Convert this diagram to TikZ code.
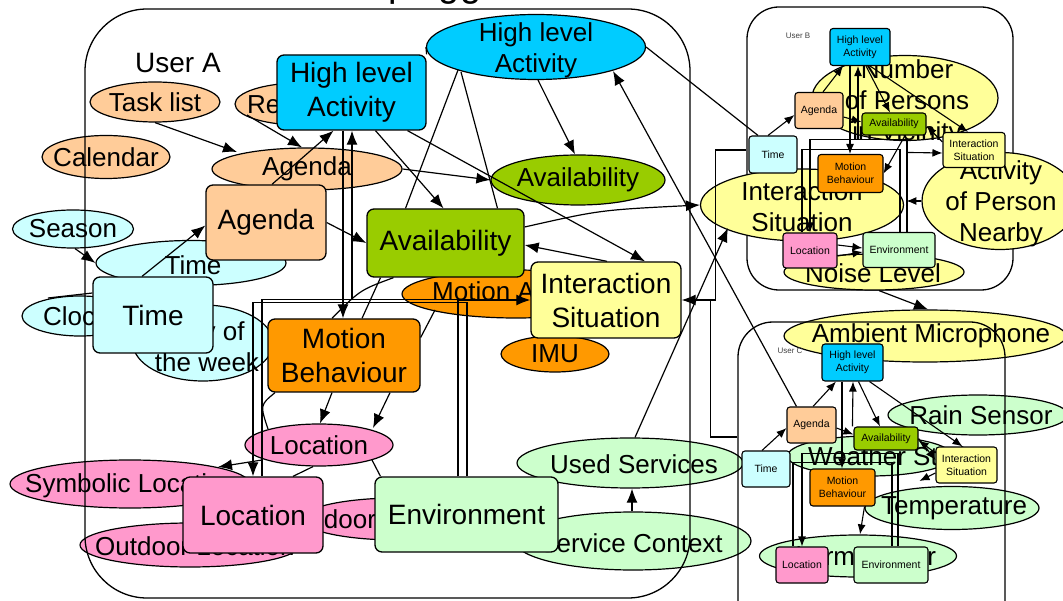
\documentclass[tikz,border=0pt]{standalone}
\usepackage{fontspec}
\setmainfont{Liberation Sans}
\usetikzlibrary{shapes.geometric,arrows.meta}

\pgfdeclarelayer{ctxlayer}
\pgfdeclarelayer{linklayer}
\pgfsetlayers{ctxlayer,linklayer,main}

\definecolor{peach}{HTML}{FFCC99}
\definecolor{paleCyan}{HTML}{CCFFFF}
\definecolor{actBlue}{HTML}{00CCFF}
\definecolor{availGreen}{HTML}{99CC00}
\definecolor{sitYellow}{HTML}{FFFF99}
\definecolor{motOrange}{HTML}{FF9900}
\definecolor{locPink}{HTML}{FF99CC}
\definecolor{envGreen}{HTML}{CCFFCC}

\newcommand{\fsz}[2]{\fontsize{#1}{#2}\selectfont}
% context source ellipse: name, x, y, width, height, fill
\newcommand{\ctxshape}[6]{%
  \node[ctx, fill=#6, minimum width=#4pt, minimum height=#5pt] (#1) at (#2,#3) {};}

\tikzset{
  ctx/.style={ellipse, draw, line width=1.2pt, inner sep=0pt},
  ctxlbl/.style={font=\fsz{26}{31}, align=center, inner sep=0pt},
  bigbox/.style={draw, line width=1.3pt, rounded corners=7pt, align=center, inner sep=0pt, font=\fsz{28}{34}},
  smallbox/.style={draw, line width=1.1pt, rounded corners=3pt, align=center, inner sep=0pt, font=\fsz{10.5}{13}},
  userframe/.style={draw, line width=1.3pt, inner sep=0pt},
  arr/.style={-{Latex[length=14pt,width=11pt]}, line width=1.2pt},
  sarr/.style={-{Latex[length=10pt,width=8pt]}, line width=1.1pt},
  plain/.style={line width=1.2pt},
  splain/.style={line width=1.1pt},
  userlbl/.style={font=\fsz{8}{9}, text=black!75, inner sep=0pt},
}

\begin{document}
\begin{tikzpicture}[x=1pt,y=-1pt]
\useasboundingbox (0,0) rectangle (1063,601);

\node[font=\fsz{38}{38}, anchor=base west, inner sep=0pt] (title) at (388,-3) {plugged};

%----------------------------------------------------------------- sources
\begin{pgfonlayer}{ctxlayer}
\node[userframe, rounded corners=32pt, minimum width=266pt, minimum height=283pt] (frameB) at (880,148.5) {};

% user B sources
\ctxshape{numB}{905}{98}{186}{85}{sitYellow}
\node[ctxlbl] (numB-t) at (907,103) {Number\\of Persons\\in Vicinity};
\ctxshape{actB}{1000}{201}{156}{97}{sitYellow}
\node[ctxlbl] (actB-t) at (1001,204) {Activity\\of Person\\Nearby};
\ctxshape{isellB}{802}{205}{203}{72}{sitYellow}
\node[ctxlbl] (isellB-t) at (802,207) {Interaction\\Situation};
\ctxshape{noise}{874}{272}{180}{36}{sitYellow}
\node[ctxlbl] (noise-t) at (873,273) {Noise Level};
\ctxshape{ambient}{925}{336}{282}{52}{sitYellow}
\node[ctxlbl] (ambient-t) at (931,336) {Ambient Microphone};

% user A sources
\ctxshape{task}{155}{102}{130}{40}{peach}
\node[ctxlbl] (task-t) at (task) {Task list};
\ctxshape{rem}{300}{104}{130}{42}{peach}
\node[ctxlbl, anchor=west] (rem-t) at (247,104) {Reminder};
\ctxshape{cal}{106}{157}{128}{43}{peach}
\node[ctxlbl] (cal-t) at (cal) {Calendar};
\ctxshape{agell}{307}{169}{190}{42}{peach}
\node[ctxlbl] (agell-t) at (agell) {Agenda};
\ctxshape{season}{73}{229}{121}{38}{paleCyan}
\node[ctxlbl] (season-t) at (season) {Season};
\ctxshape{timeell}{191}{263}{190}{45}{paleCyan}
\node[ctxlbl] (timeell-t) at (193,265) {Time};
\ctxshape{clock}{80}{316}{116}{40}{paleCyan}
\node[ctxlbl, anchor=west] (clock-t) at (43,316) {Clock};
\ctxshape{dow}{203}{343}{140}{76}{paleCyan}
\node[ctxlbl] (dow-t) at (207,347) {Day of\\the week};
\ctxshape{hlell}{536}{47}{219}{65}{actBlue}
\node[ctxlbl] (hlell-t) at (536,50) {High level\\Activity};
\ctxshape{avell}{578}{180}{174}{50}{availGreen}
\node[ctxlbl] (avell-t) at (avell) {Availability};
\ctxshape{mact}{516}{294}{228}{48}{motOrange}
\node[ctxlbl, anchor=west] (mact-t) at (432,294) {Motion Activity};
\ctxshape{imu}{555}{354}{108}{36}{motOrange}
\node[ctxlbl] (imu-t) at (imu) {IMU};
\ctxshape{locell}{319}{445}{148}{42}{locPink}
\node[ctxlbl] (locell-t) at (locell) {Location};
\ctxshape{symloc}{130}{484}{240}{48}{locPink}
\node[ctxlbl, anchor=west] (symloc-t) at (25,486) {Symbolic Location};
\ctxshape{outloc}{190}{545}{220}{44}{locPink}
\node[ctxlbl, anchor=west] (outloc-t) at (95,546) {Outdoor Location};
\ctxshape{inloc}{397}{519}{190}{42}{locPink}
\node[ctxlbl, anchor=west] (inloc-t) at (302,519) {Indoor Location};
\ctxshape{used}{630}{463}{226}{50}{envGreen}
\node[ctxlbl] (used-t) at (634,464) {Used Services};
\ctxshape{svc}{633}{541}{236}{58}{envGreen}
\node[ctxlbl, anchor=west] (svc-t) at (539,543) {Service Context};

% user C sources
\ctxshape{rain}{978}{415}{180}{40}{envGreen}
\node[ctxlbl] (rain-t) at (981,415) {Rain Sensor};
\ctxshape{weather}{870}{456}{165}{40}{envGreen}
\node[ctxlbl, anchor=west] (weather-t) at (808,456) {Weather Station};
\ctxshape{temp}{952}{508}{174}{43}{envGreen}
\node[ctxlbl] (temp-t) at (954,508) {Temperature};
\ctxshape{therm}{858}{556}{197}{42}{envGreen}
\node[ctxlbl] (therm-t) at (therm) {Thermometer};

\node[userframe, rounded corners=62pt, minimum width=605pt, minimum height=589pt] (frameA) at (387.5,303.5) {};
\node[userframe, rounded corners=35pt, minimum width=267pt, minimum height=318pt] (frameC) at (871.5,481) {};
\end{pgfonlayer}

%----------------------------------------------------------------- user labels
\node[font=\fsz{28}{30}, inner sep=0pt] (userA) at (178,63) {User A};
\node[userlbl] (userB) at (798,36) {User B};
\node[userlbl] (userC) at (790,351) {User C};

%----------------------------------------------------------------- user A model
\node[bigbox, fill=actBlue, minimum width=149pt, minimum height=75pt] (hlA) at (351.5,92.5) {High level\\Activity};
\node[bigbox, fill=peach, minimum width=120pt, minimum height=75pt] (agA) at (266,222.5) {Agenda};
\node[bigbox, fill=paleCyan, minimum width=120pt, minimum height=76pt] (tmA) at (153,315) {Time};
\node[bigbox, fill=availGreen, minimum width=157pt, minimum height=68pt] (avA) at (445.5,243) {Availability};
\node[bigbox, fill=sitYellow, minimum width=150pt, minimum height=76pt] (isA) at (606,300) {Interaction\\Situation};
\node[bigbox, fill=motOrange, minimum width=152pt, minimum height=73pt] (mbA) at (344,355.5) {Motion\\Behaviour};
\node[bigbox, fill=locPink, minimum width=140pt, minimum height=76pt] (loA) at (253,515) {Location};
\node[bigbox, fill=envGreen, minimum width=183pt, minimum height=75pt] (enA) at (466.5,514.5) {Environment};

%----------------------------------------------------------------- user B model
\node[smallbox, fill=actBlue, minimum width=60pt, minimum height=37pt] (hlB) at (860,47) {High level\\Activity};
\node[smallbox, fill=peach, minimum width=48pt, minimum height=36pt] (agB) at (819,110.5) {Agenda};
\node[smallbox, fill=paleCyan, minimum width=48pt, minimum height=37pt] (tmB) at (773,154.5) {Time};
\node[smallbox, fill=availGreen, minimum width=64pt, minimum height=22pt] (avB) at (894,124) {Availability};
\node[smallbox, fill=sitYellow, minimum width=62pt, minimum height=35pt] (isB) at (974,150) {Interaction\\Situation};
\node[smallbox, fill=motOrange, minimum width=65pt, minimum height=38pt] (mbB) at (850.5,173.5) {Motion\\Behaviour};
\node[smallbox, fill=locPink, minimum width=54pt, minimum height=35pt] (loB) at (810,250.5) {Location};
\node[smallbox, fill=envGreen, minimum width=72pt, minimum height=35pt] (enB) at (899,250) {Environment};

%----------------------------------------------------------------- user C model
\node[smallbox, fill=actBlue, minimum width=61pt, minimum height=37pt] (hlC) at (852.5,362.5) {High level\\Activity};
\node[smallbox, fill=peach, minimum width=49pt, minimum height=36pt] (agC) at (811.5,425) {Agenda};
\node[smallbox, fill=paleCyan, minimum width=48pt, minimum height=36pt] (tmC) at (766,469) {Time};
\node[smallbox, fill=availGreen, minimum width=64pt, minimum height=23pt] (avC) at (886,438.5) {Availability};
\node[smallbox, fill=sitYellow, minimum width=61pt, minimum height=36pt] (isC) at (966.5,465) {Interaction\\Situation};
\node[smallbox, fill=motOrange, minimum width=65pt, minimum height=37pt] (mbC) at (842.5,487.5) {Motion\\Behaviour};
\node[smallbox, fill=locPink, minimum width=52pt, minimum height=36pt] (loC) at (802,565) {Location};
\node[smallbox, fill=envGreen, minimum width=74pt, minimum height=36pt] (enC) at (891,565) {Environment};

%----------------------------------------------------------------- connectors
\begin{pgfonlayer}{linklayer}
% user A
\draw[arr] (task.south) -- ([shift={(-70,-17)}]agell.center);
\draw[arr] ([shift={(-53,11)}]rem.center) -- ([xshift=-5pt]agell.north);
\draw[arr] ([xshift=6pt]agA.north) -- ([xshift=-18pt]hlA.south);
\draw[arr] ([xshift=-11pt]tmA.north) -- ([yshift=-3pt]agA.west);
\draw[arr] ([xshift=2pt]season.south) -- (timeell.west);
\draw[plain] ([shift={(-32,-18)}]clock.center) -- ([yshift=22pt]tmA.west);
\draw[arr] (agA.east) -- (avA.west);
\draw[arr] (agell.east) -- (avell.west);
\draw[arr] ([xshift=24pt]hlA.south) -- ([xshift=-2pt]avA.north);
\draw[arr] ([xshift=56pt]hlA.south) -- ([xshift=39pt]isA.north);
\draw[arr] ([xshift=2pt]hlell.south) -- ([xshift=-3pt]avell.north);
\draw[plain] ([shift={(-78,23)}]hlell.center) -- ([xshift=-40pt]avA.north);
\draw[plain] ([shift={(-75,25)}]hlell.center) -- ([xshift=52pt]avA.north);
\draw[plain] (hlell.west) -- (hlA.north east);
\draw[plain] (hlell.east) -- ([xshift=-15pt]tmB.north);
\draw[arr] ([xshift=-15pt]agC.north) -- ([shift={(77,24)}]hlell.center);
\draw[arr] ([yshift=16pt]avA.east) .. controls (600,210) .. (isellB.west);
\draw[arr] ([xshift=1pt]isA.north) -- ([yshift=-2pt]avA.east);
\draw[arr] ([shift={(-58,6)}]mact.center) -- (isA.west);
\draw[arr] ([xshift=-8.5pt]hlA.south) -- ([xshift=-1pt]mbA.north);
\draw[arr] ([xshift=-8.5pt]enA.north) -- ++(0,-177) -| ([xshift=0.5pt]hlA.south);
\draw[plain] ([xshift=-8.5pt]enA.north) -- ++(0,-177) -| ([xshift=9pt]loA.north);
\draw[arr] ([xshift=0.5pt]enA.north) -- ++(0,-174) -| (loA.north);
\draw[arr] ([xshift=-12pt]mbA.south) -- ([xshift=1pt]locell.north);
\draw[arr] ([xshift=46pt]mbA.south) -- ([shift={(54,-17)}]locell.center);
\draw[arr] ([shift={(-57,15)}]locell.center) -- ([shift={(88,-17)}]symloc.center);
\draw[plain] ([xshift=-69pt]mbA.south) .. controls (260,405) .. ([shift={(-51,-16)}]locell.center);
\draw[plain] ([xshift=-6pt]locell.south) -- ([xshift=40pt]loA.north);
\draw[plain] ([shift={(53,15)}]locell.center) -- ([xshift=-86pt]enA.north);
\draw[plain] ([xshift=-52pt]avA.south) .. controls (360,290) .. ([xshift=-12pt]mbA.north);
\draw[plain] ([xshift=-65pt]avA.south) -- ([xshift=18pt]mbA.north);
\draw[plain] ([shift={(-81,16)}]mact.center) -- ([yshift=18pt]mbA.east);
\draw[arr] ([xshift=5pt]used.north) -- ([shift={(-74,23)}]isellB.center);
\draw[arr] ([xshift=-1pt]svc.north) -- ([xshift=2pt]used.south);
\draw[arr] ([yshift=-1.5pt]frameB.west) -| ([xshift=34pt]isA.east) -- (isA.east);
\draw[plain] ([yshift=44pt]frameC.west) -| ([xshift=29pt]isA.east);

% user B
\draw[sarr] ([xshift=-5pt]tmB.north) -- ([yshift=-4.5pt]agB.west);
\draw[sarr] ([xshift=4pt]agB.north) -- ([xshift=-17pt]hlB.south);
\draw[sarr] ([xshift=-10pt]hlB.south) -- ([xshift=-0.5pt]mbB.north);
\draw[sarr] ([xshift=8pt]enB.north) -- ++(0,-92.5) -| ([xshift=-2pt]hlB.south);
\draw[sarr] ([xshift=8pt]enB.north) -- ++(0,-92.5) -| (loB.north);
\draw[splain] ([xshift=1pt]enB.north) -- ++(0,-82.5) -| ([xshift=-8pt]loB.north);
\draw[sarr] ([xshift=6pt]hlB.south) -- ([xshift=-4pt]avB.north);
\draw[sarr] ([xshift=10pt]hlB.south) -- ([xshift=-6pt]isB.north);
\draw[sarr] ([yshift=-6.5pt]agB.east) -- ([yshift=2pt]avB.west);
\draw[sarr] ([yshift=8pt]isB.west) -- ([yshift=-2pt]avB.east);
\draw[sarr] ([xshift=8pt]enB.north) -- ++(0,-79.5) -- ([yshift=-3pt]isB.west);
\draw[sarr] ([xshift=11pt]avB.south) -- (mbB.east);
\draw[sarr] (actB.west) -- ++(-15,0);
\draw[sarr] ([yshift=5.5pt]loB.east) -- ([yshift=2pt]enB.west);
\draw[sarr] ([yshift=-5.5pt]loB.east) -- ([yshift=-2pt]enB.west);
\draw[arr] ([xshift=5pt]noise.south) -- ([xshift=3pt]ambient.north);

% user C
\draw[sarr] ([xshift=-4pt]tmC.north) -- ([yshift=-3pt]agC.west);
\draw[sarr] ([xshift=1.5pt]agC.north) -- ([xshift=-16.5pt]hlC.south);
\draw[sarr] ([xshift=-10.5pt]hlC.south) -- ([xshift=-0.5pt]mbC.north);
\draw[sarr] ([xshift=-1pt]avC.north west) -- ([xshift=0.5pt]hlC.south);
\draw[sarr] ([xshift=6pt]hlC.south) -- ([xshift=-6pt]avC.north);
\draw[sarr] ([xshift=17pt]hlC.south) -- ([xshift=-4pt]isC.north);
\draw[sarr] ([yshift=-3pt]agC.east) -- ([yshift=4pt]avC.west);
\draw[sarr] (avC.east) -- ([yshift=5pt]isC.west);
\draw[sarr] ([yshift=12pt]isC.west) -- ([yshift=-2pt]avC.east);
\draw[sarr] ([yshift=-8pt]isC.west) -- ++(-16,8);
\draw[sarr] ([xshift=22pt]mbC.south) -- ([xshift=2pt]therm.north);
\draw[sarr] ([xshift=7pt]enC.north) -- ++(0,-93) -| (loC.north);
\draw[splain] ([xshift=1pt]enC.north) -- ++(0,-84) -| ([xshift=-9pt]loC.north);
\end{pgfonlayer}
\end{tikzpicture}
\end{document}
